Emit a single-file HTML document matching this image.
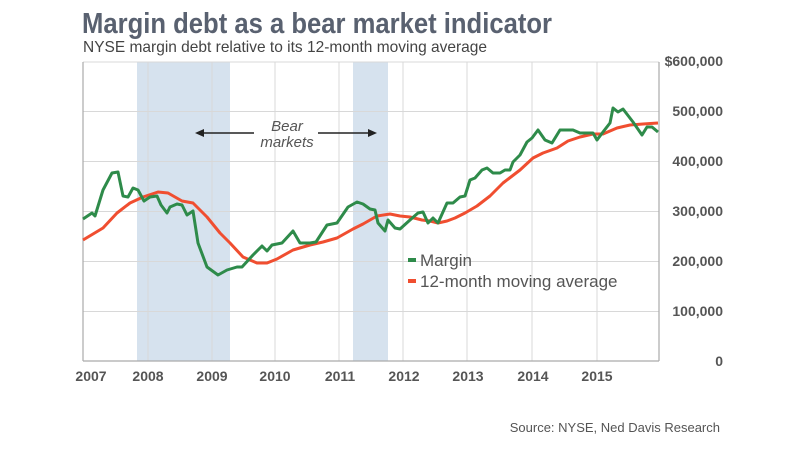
<!DOCTYPE html>
<html><head><meta charset="utf-8"><style>
html,body{margin:0;padding:0;background:#fff;width:800px;height:450px;overflow:hidden}
svg{display:block;font-family:"Liberation Sans",sans-serif}
</style></head><body>
<svg width="800" height="450" viewBox="0 0 800 450">
<text x="82" y="33" font-size="29" font-weight="bold" fill="#596170" textLength="470" lengthAdjust="spacingAndGlyphs">Margin debt as a bear market indicator</text>
<text x="83" y="52" font-size="16" fill="#444" textLength="404" lengthAdjust="spacingAndGlyphs">NYSE margin debt relative to its 12-month moving average</text>
<rect x="137" y="62" width="93" height="299" fill="#d6e2ee"/>
<rect x="353" y="62" width="35" height="299" fill="#d6e2ee"/>
<g stroke="#d8d8d8" stroke-width="1">
<line x1="83" y1="62" x2="659" y2="62"/><line x1="83" y1="111.5" x2="659" y2="111.5"/><line x1="83" y1="161.5" x2="659" y2="161.5"/><line x1="83" y1="211.5" x2="659" y2="211.5"/><line x1="83" y1="261.5" x2="659" y2="261.5"/><line x1="83" y1="311.5" x2="659" y2="311.5"/>
<line x1="148" y1="62" x2="148" y2="361"/><line x1="212" y1="62" x2="212" y2="361"/><line x1="275" y1="62" x2="275" y2="361"/><line x1="339" y1="62" x2="339" y2="361"/><line x1="403" y1="62" x2="403" y2="361"/><line x1="467" y1="62" x2="467" y2="361"/><line x1="532" y1="62" x2="532" y2="361"/><line x1="597" y1="62" x2="597" y2="361"/>
</g>
<g stroke="#aaa" stroke-width="1.2"><line x1="83" y1="62" x2="83" y2="361"/><line x1="659" y1="62" x2="659" y2="361"/><line x1="83" y1="361" x2="659" y2="361"/></g>
<g font-size="14" font-weight="bold" fill="#555" text-anchor="end">
<text x="723" y="66">$600,000</text><text x="723" y="116">500,000</text><text x="723" y="166">400,000</text><text x="723" y="216">300,000</text><text x="723" y="266">200,000</text><text x="723" y="316">100,000</text><text x="723" y="366">0</text>
</g>
<g font-size="14" font-weight="bold" fill="#555" text-anchor="middle">
<text x="91" y="381">2007</text><text x="148" y="381">2008</text><text x="212" y="381">2009</text><text x="275" y="381">2010</text><text x="340" y="381">2011</text><text x="404" y="381">2012</text><text x="468" y="381">2013</text><text x="533" y="381">2014</text><text x="597" y="381">2015</text>
</g>
<g font-size="15" font-style="italic" fill="#555" text-anchor="middle"><text x="287" y="131">Bear</text><text x="287" y="147">markets</text></g>
<g stroke="#222" stroke-width="1.5"><line x1="200" y1="133" x2="254" y2="133"/><line x1="318" y1="133" x2="372" y2="133"/></g>
<polygon points="195,133 204,129 204,137" fill="#222"/><polygon points="377,133 368,129 368,137" fill="#222"/>
<polyline fill="none" stroke="#f04e30" stroke-width="3" stroke-linejoin="round" points="83,240 103,228 117,213 130,203 143,197 158,192 168,193 182,201 193,203 207,217 220,233 230,243 243,257 257,263 267,263 277,259 293,250 310,245 323,242 337,238 353,229 363,224 377,216 390,214 400,216 410,217 422,220 430,221 438,223 447,221 455,218 465,213 477,206 490,196 503,183 520,170 533,158 543,153 557,148 568,141 580,137 593,134 603,134 617,128 630,125 643,124 658,123"/>
<polyline fill="none" stroke="#2e8b4a" stroke-width="3" stroke-linejoin="round" points="83,219 92,213 95,216 103,190 112,173 118,172 123,196 128,197 133,188 138,190 144,201 150,197 157,196 161,205 167,213 170,207 177,204 182,205 187,215 193,211 198,243 207,267 218,275 227,270 237,267 242,267 253,255 262,246 267,251 272,245 282,243 293,231 300,243 310,243 316,242 327,225 337,223 348,207 357,202 363,204 370,209 375,210 378,223 385,231 388,220 395,228 400,229 410,220 418,213 423,212 428,223 433,218 438,223 447,203 453,203 460,197 465,196 470,180 475,178 482,170 487,168 493,173 500,173 505,170 510,170 513,162 520,155 527,142 532,138 538,130 545,140 552,143 560,130 567,130 573,130 580,133 587,133 593,133 597,140 603,132 610,123 613,108 618,112 623,109 633,122 642,135 647,127 652,127 658,132"/>
<rect x="408" y="258" width="8" height="4" fill="#2e8b4a"/>
<rect x="408" y="279" width="8" height="4" fill="#f04e30"/>
<g font-size="17" fill="#555"><text x="420" y="266">Margin</text><text x="420" y="287">12-month moving average</text></g>
<text x="720" y="432" font-size="13" fill="#555" text-anchor="end">Source: NYSE, Ned Davis Research</text>
</svg>
</body></html>
